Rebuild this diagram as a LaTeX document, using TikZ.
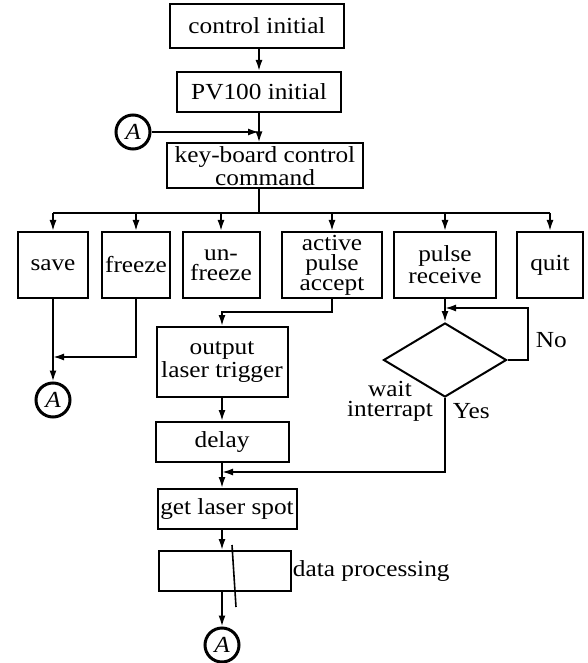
\documentclass[tikz,border=0pt]{standalone}
\usepackage{fontspec}
\setmainfont{Liberation Serif}[FakeStretch=1.1]
\usetikzlibrary{arrows.meta,shapes.geometric}
\begin{document}
\begin{tikzpicture}[x=0.5pt,y=-0.5pt,line width=0.9pt,font=\fontsize{11.5pt}{10pt}\selectfont,
  box/.style={draw,line width=1pt,inner sep=1pt,align=center},
  arr/.style={-{Latex[length=5.5pt,width=3.5pt]}},
  con/.style={draw,circle,line width=1.5pt,minimum size=17pt,inner sep=0pt,font=\fontsize{11.5pt}{10pt}\selectfont\itshape}]
\useasboundingbox (0,0) rectangle (588,663);
\node[box,minimum width=87pt,minimum height=22pt] (ci) at (257,26) {control initial};
\node[box,minimum width=82pt,minimum height=20pt] (pv) at (259,92) {PV100 initial};
\node[box,minimum width=98pt,minimum height=22.5pt] (kb) at (265,166) {key-board control\\command};
\node[con] (a1) at (133,132) {A};
\node[box,minimum width=35pt,minimum height=33pt] (save) at (53,265) {save};
\node[box,minimum width=34pt,minimum height=33pt] (freeze) at (136,265) {freeze};
\node[box,minimum width=38.5pt,minimum height=33pt] (unfreeze) at (221,265) {un-\\freeze};
\node[box,minimum width=50pt,minimum height=33pt] (active) at (332,265) {active\\pulse\\accept};
\node[box,minimum width=51pt,minimum height=33pt] (pr) at (445,265) {pulse\\receive};
\node[box,minimum width=33pt,minimum height=33pt] (quit) at (550,265) {quit};
\node[con] (a2) at (53,400) {A};
\node[box,minimum width=65.5pt,minimum height=35pt] (olt) at (222,362) {output\\laser trigger};
\node[box,minimum width=66.5pt,minimum height=20pt] (delay) at (222,442) {delay};
\node[box,minimum width=69.5pt,minimum height=20pt] (gls) at (227,509) {get laser spot};
\node[box,minimum width=66pt,minimum height=20pt] (dp) at (225,571) {};
\node[anchor=west,inner sep=0pt] (dpl) at (dp.east) {data processing};
\node[con] (a3) at (222,645) {A};
\node[draw,diamond,aspect=1.66,minimum width=61.5pt,minimum height=37pt,inner sep=0pt,line width=1pt] (dia) at (445,360) {};
\node[anchor=west,inner sep=0pt] (no) at (535,340) {No};
\node[align=center,inner sep=0pt] (wi) at (390,401) {wait\\interrapt};
\node[anchor=west,inner sep=0pt] (yes) at (452,411) {Yes};
\coordinate (bus) at (259,213);
\coordinate (m1) at (53,357);
\coordinate (j2) at (222,312);
\coordinate (j3) at (445,308);
\coordinate (nr) at (528,308);
\coordinate (j4) at (222,472);
\draw[arr] (ci.south -| pv) -- (pv.north);
\draw[arr] (pv.south) -- (pv.south |- kb.north);
\draw[arr] (a1) -- (a1 -| pv.south);
\draw (pv.south |- kb.south) -- (bus);
\draw (save |- bus) -- (quit |- bus);
\foreach \n in {save,freeze,unfreeze,active,pr,quit} \draw[arr] (\n |- bus) -- (\n.north);
\draw (save.south) -- (m1);
\draw[arr] (freeze.south) |- (m1);
\draw[arr] (m1) -- (a2);
\draw[arr] (active.south) |- (j2) -- (olt.north);
\draw[arr] (olt) -- (delay);
\draw[arr] (delay) -- (delay |- gls.north);
\draw (pr.south) -- (j3);
\draw[arr] (j3) -- (dia.north);
\draw[arr] (dia.east) -| (nr) -- (j3);
\draw[arr] (dia.south) |- (j4);
\draw[arr] (gls.south -| delay) -- (dp.north -| delay);
\draw[arr] (dp.south -| delay) -- (a3);
\draw[line width=0.8pt] (232,545) -- (236,607);
\end{tikzpicture}
\end{document}
